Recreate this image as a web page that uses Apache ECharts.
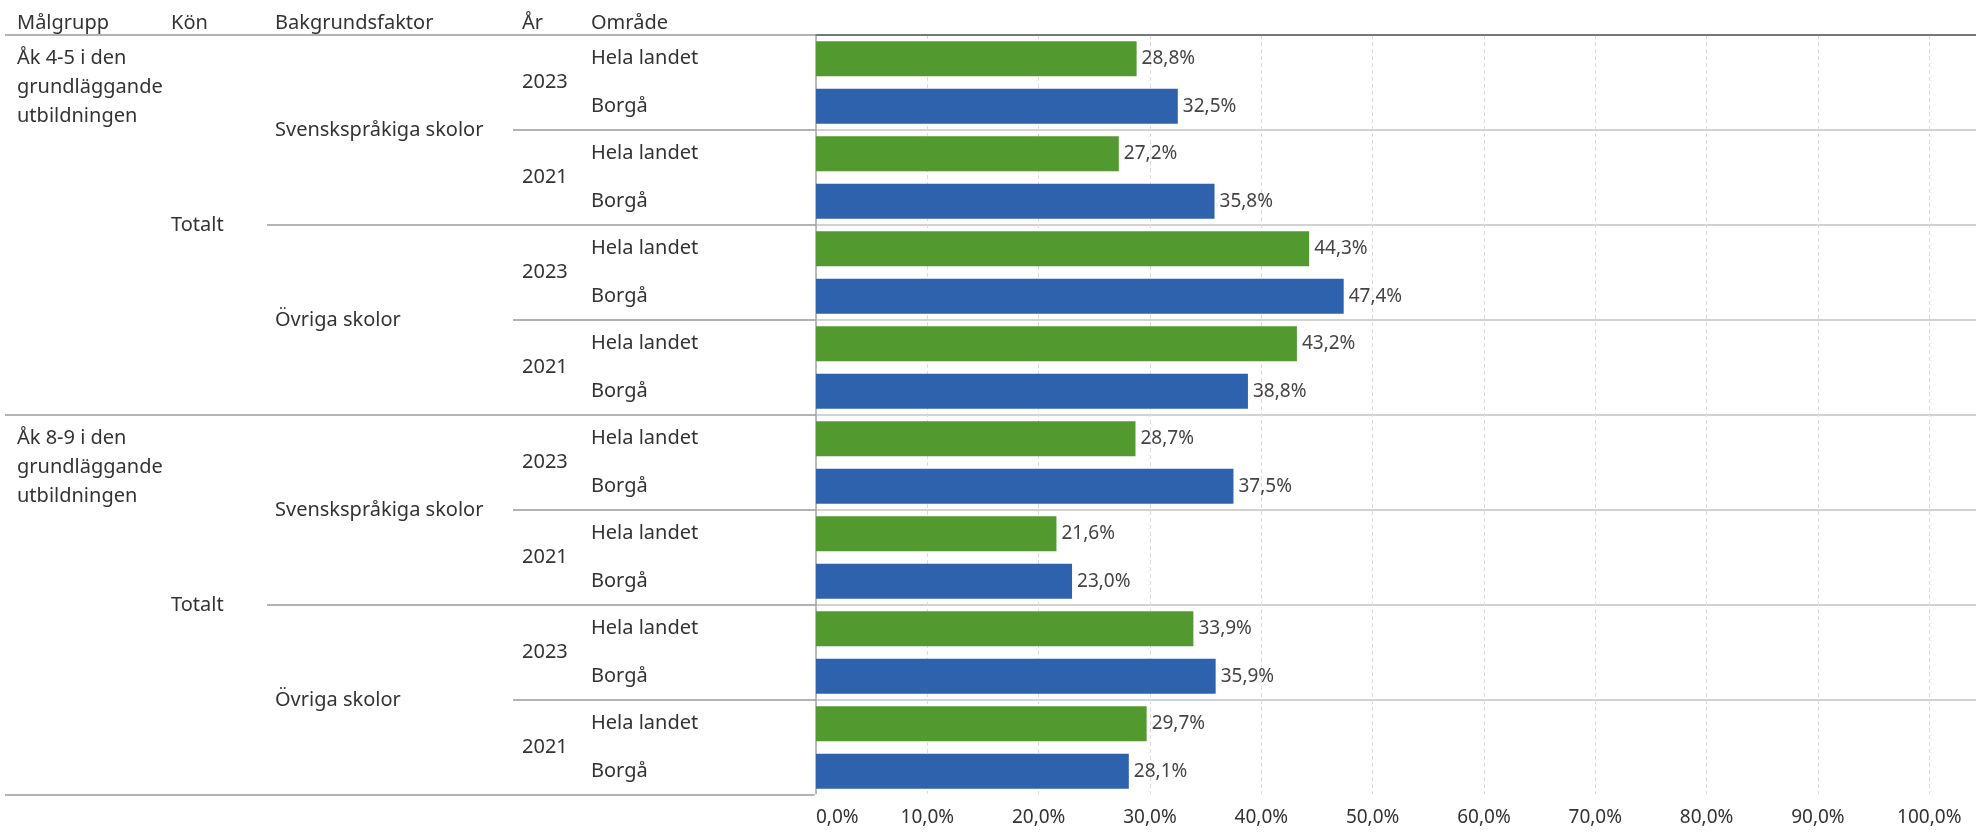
<!DOCTYPE html>
<html>
<head>
<meta charset="utf-8">
<script src="https://cdn.jsdelivr.net/npm/echarts@6/dist/echarts.min.js"></script>
<style>
  html, body { margin: 0; padding: 0; background: #fff; }
  #main { width: 1976px; height: 832px; }
</style>
</head>
<body>
<div id="main"></div>
<script>
// hierarki
var malgrupp = ['Åk 4-5 i den\ngrundläggande\nutbildningen', 'Åk 8-9 i den\ngrundläggande\nutbildningen'];
var kon = ['Totalt'];
var bakgrund = ['Svenskspråkiga skolor', 'Övriga skolor'];
var ar = ['2023', '2021'];
var omrade = ['Hela landet', 'Borgå'];

// andel i procent, i samma ordning som raderna
var helaLandet = [28.8, 27.2, 44.3, 43.2, 28.7, 21.6, 33.9, 29.7];
var borga = [32.5, 35.8, 47.4, 38.8, 37.5, 23.0, 35.9, 28.1];

var headers = ['Målgrupp', 'Kön', 'Bakgrundsfaktor', 'År', 'Område'];

var FONT = 'Noto Sans';
var TXT = '#333';

// bygg kategorierna för varje nivå
var rowCats = [], yearCats = [], bgCats = [], konCats = [], mgCats = [];
var greenData = [], blueData = [];
var k = 0;
malgrupp.forEach(function (m) {
    konCats.push(kon[0]);
    bakgrund.forEach(function (b) {
        bgCats.push(b);
        ar.forEach(function (y) {
            yearCats.push(y);
            omrade.forEach(function (o, oi) {
                rowCats.push(o);
                mgCats.push(rowCats.length % 8 === 1 ? '\n\n' + m : '');
                greenData.push(oi === 0 ? helaLandet[k] : '-');
                blueData.push(oi === 1 ? borga[k] : '-');
            });
            k++;
        });
    });
});

function pct(v) {
    return v.toFixed(1).replace('.', ',') + '%';
}

var gridLeft = 816;
var xMax = 104.2;

function levelAxis(data, labelX, tickX, extra) {
    var ax = {
        type: 'category',
        position: 'left',
        offset: 0,
        inverse: true,
        data: data,
        gridIndex: 0,
        axisLine: { show: false },
        axisTick: tickX == null ? { show: false } : {
            show: true,
            length: gridLeft - tickX,
            lineStyle: { color: '#9a9a9a', width: 1.5 }
        },
        axisLabel: {
            interval: 0,
            align: 'left',
            margin: gridLeft - labelX,
            color: TXT,
            fontFamily: FONT,
            fontSize: 20,
            lineHeight: 29
        },
        splitLine: { show: false }
    };
    return Object.assign(ax, extra || {});
}

var myChart = echarts.init(document.getElementById('main'));
var option = {
    animation: false,
    textStyle: { fontFamily: FONT },
    graphic: headers.map(function (h, i) {
        return {
            type: 'text',
            left: [17, 171, 275, 522, 591][i],
            top: 13,
            style: { text: h, fill: TXT, font: '20px "' + FONT + '"' }
        };
    }),
    grid: { left: gridLeft, right: 0, top: 35, bottom: 37, containLabel: false, outerBoundsMode: 'none' },
    xAxis: [{
        type: 'value',
        position: 'bottom',
        min: 0,
        max: xMax,
        interval: 10,
        axisLine: { show: false },
        axisTick: { show: false },
        axisLabel: {
            formatter: function (v) { return v > 100 ? '' : pct(v); },
            showMaxLabel: false,
            color: TXT,
            fontFamily: FONT,
            fontSize: 19,
            margin: 13,
            alignMinLabel: 'left'
        },
        splitLine: { show: true, lineStyle: { color: '#dcdcdc', type: [4, 3], width: 1 } }
    }, {
        type: 'value',
        position: 'top',
        min: 0,
        max: xMax,
        axisLine: { show: true, lineStyle: { color: '#777', width: 2 } },
        axisTick: { show: false },
        axisLabel: { show: false },
        splitLine: { show: false }
    }, {
        // döljer den sista avgränsningslinjen i diagramytan
        type: 'value',
        position: 'bottom',
        offset: 0,
        min: 0,
        max: xMax,
        z: 5,
        axisLine: { show: true, lineStyle: { color: '#fff', width: 3 } },
        axisTick: { show: false },
        axisLabel: { show: false },
        splitLine: { show: false }
    }],
    yAxis: [
        levelAxis(rowCats, 591, null, {
            axisLine: { show: true, lineStyle: { color: '#a8a8a8', width: 1.5 } }
        }),
        levelAxis(yearCats, 522, 513, {
            splitLine: { show: true, lineStyle: { color: '#d2d2d2', width: 2 } }
        }),
        levelAxis(bgCats, 275, 267),
        levelAxis(konCats, 171, 5),
        levelAxis(mgCats, 17, null)
    ],
    series: [{
        name: 'Hela landet',
        type: 'bar',
        xAxisIndex: 0,
        yAxisIndex: 0,
        data: greenData,
        barWidth: 35,
        barGap: '-100%',
        itemStyle: { color: '#529a30' },
        label: {
            show: true,
            position: 'right',
            distance: 5,
            color: '#444',
            fontFamily: FONT,
            fontSize: 19,
            formatter: function (p) { return pct(p.value); }
        }
    }, {
        name: 'Borgå',
        type: 'bar',
        xAxisIndex: 0,
        yAxisIndex: 0,
        data: blueData,
        barWidth: 35,
        barGap: '-100%',
        itemStyle: { color: '#2f62ad' },
        label: {
            show: true,
            position: 'right',
            distance: 5,
            color: '#444',
            fontFamily: FONT,
            fontSize: 19,
            formatter: function (p) { return pct(p.value); }
        }
    }]
};
myChart.setOption(option);
</script>
</body>
</html>
